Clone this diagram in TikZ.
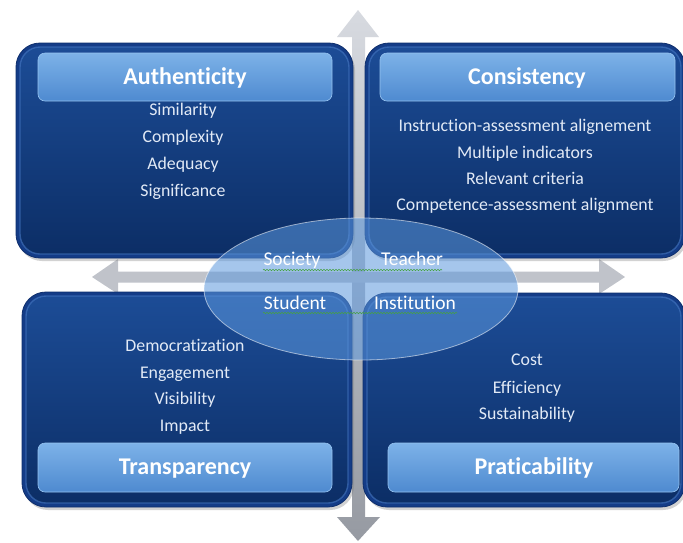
\documentclass[tikz,border=0pt]{standalone}
\usepackage{fontspec}
\setmainfont[Ligatures={NoCommon}]{Carlito}
\usetikzlibrary{shadows,shapes.geometric,decorations.pathmorphing}
\definecolor{rimout}{RGB}{20,60,135}
\definecolor{rimline}{RGB}{14,46,108}
\definecolor{boxtop}{RGB}{28,76,150}
\definecolor{boxbot}{RGB}{12,46,102}
\definecolor{bevel}{RGB}{70,120,195}
\definecolor{headtop}{RGB}{125,178,232}
\definecolor{headbot}{RGB}{78,138,208}
\definecolor{headline}{RGB}{150,195,240}
\definecolor{itemtxt}{RGB}{226,234,246}
\definecolor{arrowtop}{RGB}{215,218,224}
\definecolor{arrowbot}{RGB}{150,154,162}
\definecolor{arrowmid}{RGB}{192,195,202}
\definecolor{ellfill}{RGB}{92,152,222}
\definecolor{squig}{RGB}{70,160,70}
\begin{document}
\begin{tikzpicture}[x=1pt,y=-1pt,
  outerbox/.style={rounded corners=24pt, fill=rimout, draw=rimline, line width=0.8pt,
     drop shadow={opacity=0.35,shadow xshift=2pt,shadow yshift=-3pt}},
  innerbox/.style={rounded corners=20pt, top color=boxtop, bottom color=boxbot, draw=bevel, draw opacity=0.6, line width=1.4pt},
  header/.style={rounded corners=7pt, top color=headtop, bottom color=headbot, draw=headline, line width=0.6pt},
  title/.style={anchor=base, inner sep=0pt, text=white, font=\fontsize{24}{28}\selectfont\bfseries},
  item/.style={anchor=base, inner sep=0pt, text=itemtxt, font=\fontsize{17.8}{20}\selectfont},
  hubtxt/.style={anchor=base, inner sep=0pt, text=white, font=\fontsize{19.5}{22}\selectfont},
  squiggle/.style={draw=squig, line width=0.6pt, decorate, decoration={snake, amplitude=0.7pt, segment length=3pt}}
]
\useasboundingbox (0,0) rectangle (683,542);
\fill[white] (0,0) rectangle (683,542);

% axes (behind the boxes)
\shade[top color=arrowtop, bottom color=arrowbot]
  (358,10) -- (379,37) -- (365,37) -- (365,517) -- (380,517) -- (358,541)
  -- (337,517) -- (352,517) -- (352,37) -- (337,37) -- cycle;
\fill[arrowmid]
  (92,277) -- (118,259) -- (118,271.5) -- (599,271.5) -- (599,259) -- (625,277)
  -- (599,294) -- (599,282.5) -- (118,282.5) -- (118,294) -- cycle;

% Authenticity
\path[outerbox] (16,43) rectangle (353,258);
\path[innerbox] (20,47) rectangle (349,254);
\path[header] (38,53) rectangle (332,101);
\node[title] (ta) at (185,84) {Authenticity};
\node[item] (a1) at (183,115) {Similarity};
\node[item] (a2) at (183,142) {Complexity};
\node[item] (a3) at (183,169) {Adequacy};
\node[item] (a4) at (183,196) {Significance};

% Consistency
\path[outerbox] (365,43) rectangle (685,258);
\path[innerbox] (369,47) rectangle (681,254);
\path[header] (380,53) rectangle (675,101);
\node[title] (tc) at (527,84) {Consistency};
\node[item] (c1) at (525,131) {Instruction-assessment alignement};
\node[item] (c2) at (525,158) {Multiple indicators};
\node[item] (c3) at (525,184) {Relevant criteria};
\node[item] (c4) at (525,210) {Competence-assessment alignment};

% Transparency
\path[outerbox] (22,292) rectangle (352,507);
\path[innerbox] (26,296) rectangle (348,503);
\path[header] (38,443) rectangle (332,492);
\node[title] (tt) at (185,474) {Transparency};
\node[item] (t1) at (185,351) {Democratization};
\node[item] (t2) at (185,378) {Engagement};
\node[item] (t3) at (185,404) {Visibility};
\node[item] (t4) at (185,431) {Impact};

% Praticability
\path[outerbox] (363,293) rectangle (685,507);
\path[innerbox] (367,297) rectangle (681,503);
\path[header] (388,443) rectangle (679,492);
\node[title] (tp) at (534,474) {Praticability};
\node[item] (p1) at (527,365) {Cost};
\node[item] (p2) at (527,393) {Efficiency};
\node[item] (p3) at (527,419) {Sustainability};

% central ellipse
\node[ellipse, minimum width=314pt, minimum height=142pt, inner sep=0pt,
      fill=ellfill, fill opacity=0.55, draw=white, draw opacity=0.55, line width=0.8pt] (hub) at (361,289) {};
\node[hubtxt] (soc) at (292,265) {Society};
\node[hubtxt] (tea) at (412,265) {Teacher};
\node[hubtxt] (stu) at (295,309) {Student};
\node[hubtxt] (ins) at (415,309) {Institution};
\coordinate (s1a) at (263,270);
\coordinate (s1b) at (442,270);
\coordinate (s2a) at (263,313);
\coordinate (s2b) at (457,313);
\path[squiggle] (s1a) -- (s1b);
\path[squiggle] (s2a) -- (s2b);
\end{tikzpicture}
\end{document}
